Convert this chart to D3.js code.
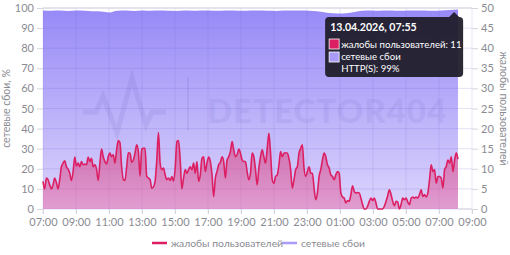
<!DOCTYPE html>
<html><head><meta charset="utf-8">
<script src="https://cdn.jsdelivr.net/npm/d3@7"></script>
<style>
body{margin:0;background:#fff;}
svg{display:block;font-family:Lato,"Noto Sans",sans-serif;}
</style></head>
<body><svg id="c" width="510" height="255"></svg>
<script>
const startTime = "2026-04-12T07:00";
const dataEndTime = "2026-04-13T08:09";
const axisEndTime = "2026-04-13T09:00";
const complaints = [6.9,5,7.7,7.3,6,5,6,7.7,6.6,5,7.3,10.5,11.4,12,10.5,9.9,8.9,7.1,9.3,12.9,10.7,11.4,10.5,11.8,11,11.2,11,12.9,11.8,12.6,10.5,11,9.9,7.1,11.4,14.9,13,11.8,11.2,13,13.9,13,13.5,11.4,14.7,17,16.5,10.5,7.3,7.1,10.5,14,13.9,11.6,12.2,13.9,16,14.3,8.1,14.9,15.1,15.1,8.1,7.7,7.3,5.2,5.5,6.9,12.2,19,
11.4,9.8,10.2,8.5,7.3,7.7,7.1,8.1,6.9,10.2,16.8,17,12.2,5,7.7,9.8,8.9,9.8,10.5,9.8,11.4,8.9,11.8,6.9,8.5,12.6,13,9.3,11.4,12.9,11.8,8.5,3.1,7.7,9.3,11,11.6,13,11.8,7.7,12.2,13,14.3,16.8,14.7,13,13.5,14.9,13.9,12.2,11.8,11.8,9.3,7.3,8.9,13.9,13,9.8,6,10.2,13,14.7,13,11.4,15.1,18.8,13.9,7.3,6.4,8.1,8.5,11,14.3,13,13.9,14,13.9,12.6,9.8,5.2,7.3,9.8,10.5,13.9,15.1,16,10.2,8.1,9.3,10.5,8.9,8.9,5.2,2.3,4,8.1,9.8,12.2,13.9,13,11,10.2,8.5,8.1,7.3,8.5,9.3,
8.9,4,3,2.7,1.5,2.1,1.9,3.6,5.8,4.4,4,4.1,4,2.7,1.1,0,0,0.7,1.9,2.7,2.1,2.7,1.5,0,0,0,0,0.7,1.9,3.3,4.8,3.6,1.9,0.8,1.9,1.7,0,1.1,2.7,2.3,2.7,1.7,1.1,2.7,3,2.7,3,2.7,3.6,4.8,3.1,3.6,3,4,7.3,11,9.3,9.8,6.4,8.1,8.1,7.7,5.2,9.8,10.6,12.2,11.4,13,9.3,12.2,14,12.4];
const failures = [98.8,98.6,98.7,98.5,98.7,98.6,98.4,98.3,97.8,98.6,98.7,98.5,98.8,98.6,98.7,98.6,98.5,98.7,98.6,98.8,98.7,98.6,98.8,98.7,98.6,98.8,98.7,98.6,98.5,98.7,98.8,98.7,98.6,98.4,97.8,97.4,97.3,97.6,98.4,98.7,98.6,98.8,98.7,98.6,98.7,98.8,98.7,98.6,98.8,99.0,99.2];
const leftTicks = [0,10,20,30,40,50,60,70,80,90,100];
const rightTicks = [0,5,10,15,20,25,30,35,40,45,50];
const xTickLabels = ["07:00","09:00","11:00","13:00","15:00","17:00","19:00","21:00","23:00","01:00","03:00","05:00","07:00","09:00"];
const seriesNames = ["жалобы пользователей","сетевые сбои"];
const leftTitle = "сетевые сбои, %";
const rightTitle = "жалобы пользователей";
const tooltipTime = "2026-04-13T07:55";
const tooltipTitle = "13.04.2026, 07:55";
const tooltipComplaints = 11;
const tooltipHttp = 99;
const watermark = "DETECTOR404";

const parse = d3.timeParse("%Y-%m-%dT%H:%M");
const t0 = parse(startTime), t1 = parse(dataEndTime), tEnd = parse(axisEndTime);
const spread = (arr) => arr.map((v,i)=>({t:new Date(+t0 + (t1-t0)*i/(arr.length-1)), v}));
const cData = spread(complaints), fData = spread(failures);

const svg = d3.select("#c");
const m = {l:43, r:472, t:8, b:209};
const x = d3.scaleTime().domain([t0, tEnd]).range([m.l, m.r]);
const yL = d3.scaleLinear().domain([0,100]).range([m.b, m.t]);
const yR = d3.scaleLinear().domain([0,50]).range([m.b, m.t]);

const defs = svg.append("defs");
const g1 = defs.append("linearGradient").attr("id","gp").attr("x1",0).attr("y1",0).attr("x2",0).attr("y2",1);
g1.append("stop").attr("offset","0%").attr("stop-color","#988af7");
g1.append("stop").attr("offset","100%").attr("stop-color","#dcd5fc");
const g2 = defs.append("linearGradient").attr("id","gk").attr("gradientUnits","userSpaceOnUse")
  .attr("x1",0).attr("y1",yR(20)).attr("x2",0).attr("y2",m.b);
g2.append("stop").attr("offset","0%").attr("stop-color","#d24f8c").attr("stop-opacity",0.75);
g2.append("stop").attr("offset","100%").attr("stop-color","#e6599a").attr("stop-opacity",0.45);

// purple area
svg.append("path").datum(fData)
  .attr("fill","url(#gp)")
  .attr("d", d3.area().x(d=>x(d.t)).y0(m.b).y1(d=>yL(d.v)).curve(d3.curveMonotoneX));

// grid
const xTicks = xTickLabels.map((s,i)=>d3.timeHour.offset(t0, 2*i));
svg.append("g").selectAll("line").data(leftTicks).join("line")
  .attr("x1",m.l).attr("x2",m.r).attr("y1",d=>yL(d)).attr("y2",d=>yL(d))
  .attr("stroke","#6e5fd0").attr("stroke-opacity",0.18).attr("stroke-width",1);
svg.append("g").selectAll("line").data(xTicks).join("line")
  .attr("x1",d=>x(d)).attr("x2",d=>x(d)).attr("y1",m.t).attr("y2",m.b+5)
  .attr("stroke","#6e5fd0").attr("stroke-opacity",0.15).attr("stroke-width",1);

// watermark
const wm = svg.append("g").attr("opacity",0.07).attr("fill","none").attr("stroke","#2a1d8a");
const hb = [[83,112],[96,112],[103,96],[117,133],[132,78],[146,125],[152,112],[166,112]];
wm.append("path").attr("d", d3.line()(hb)).attr("stroke-width",5).attr("stroke-linejoin","miter");
wm.append("line").attr("x1",188).attr("x2",188).attr("y1",77).attr("y2",130).attr("stroke-width",2);
svg.append("text").attr("x",207).attr("y",123).text(watermark)
  .attr("font-size",33).attr("font-weight",900).attr("fill","#2a1d8a").attr("opacity",0.06)
  .attr("font-family","Lato, sans-serif").attr("letter-spacing",1);

// pink area + line
svg.append("path").datum(cData).attr("fill","url(#gk)")
  .attr("d", d3.area().x(d=>x(d.t)).y0(m.b).y1(d=>yR(d.v)).curve(d3.curveMonotoneX));
svg.append("path").datum(cData).attr("fill","none").attr("stroke","#dc1f62").attr("stroke-width",1.6)
  .attr("d", d3.line().x(d=>x(d.t)).y(d=>yR(d.v)).curve(d3.curveMonotoneX));

// axes
const axisColor = "#d6d6dc", txtColor = "#8a8a92";
const aL = svg.append("g").attr("transform",`translate(${m.l},0)`)
  .call(d3.axisLeft(yL).tickValues(leftTicks).tickSize(6).tickPadding(3));
const aR = svg.append("g").attr("transform",`translate(${m.r},0)`)
  .call(d3.axisRight(yR).tickValues(rightTicks).tickSize(6).tickPadding(3));
const aB = svg.append("g").attr("transform",`translate(0,${m.b})`)
  .call(d3.axisBottom(x).tickValues(xTicks).tickFormat((d,i)=>xTickLabels[i]).tickSize(5).tickPadding(4));
[aL,aR,aB].forEach(a=>{
  a.select(".domain").remove();
  a.selectAll(".tick line").attr("stroke",axisColor);
  a.selectAll("text").attr("fill",txtColor).attr("font-size",11).attr("font-family","Lato, sans-serif");
});
svg.append("line").attr("x1",m.l).attr("x2",m.r).attr("y1",m.t).attr("y2",m.t).attr("stroke",axisColor);
svg.append("line").attr("x1",x(t1)).attr("x2",m.r).attr("y1",m.b).attr("y2",m.b).attr("stroke",axisColor);

svg.append("text").attr("transform",`translate(10,${(m.t+m.b)/2}) rotate(-90)`).attr("text-anchor","middle")
  .attr("fill",txtColor).attr("font-size",10.5).text(leftTitle);
svg.append("text").attr("transform",`translate(500,${(m.t+m.b)/2}) rotate(90)`).attr("text-anchor","middle")
  .attr("fill",txtColor).attr("font-size",10.5).text(rightTitle);

// legend
const lg = svg.append("g").attr("font-size",10.3).attr("fill",txtColor);
const legendItems = [{n:seriesNames[0],c:"#dc1f62",x:152},{n:seriesNames[1],c:"#a99bf7",x:282}];
legendItems.forEach(it=>{
  lg.append("line").attr("x1",it.x).attr("x2",it.x+15).attr("y1",243).attr("y2",243).attr("stroke",it.c).attr("stroke-width",2.5);
  lg.append("text").attr("x",it.x+19).attr("y",246.5).text(it.n);
});

// tooltip
const tt = parse(tooltipTime);
const ax = x(tt), ay = yL(99)+3;
const bw = 138, bh = 60, bx = ax - bw + 9, by = ay + 4;
const fs = 9.6;
const tg = svg.append("g");
tg.append("rect").attr("x",bx).attr("y",by).attr("width",bw).attr("height",bh).attr("rx",4)
  .attr("fill","#1c1b26").attr("fill-opacity",0.93);
tg.append("path").attr("d",`M${ax-5},${by} L${ax},${by-5} L${ax+5},${by} Z`).attr("fill","#1c1b26").attr("fill-opacity",0.93);
tg.append("text").attr("x",bx+5).attr("y",by+14).attr("fill","#fff").attr("font-size",10.6).attr("font-weight",700).text(tooltipTitle);
tg.append("rect").attr("x",bx+4).attr("y",by+22).attr("width",10).attr("height",10).attr("fill","#dc1f62").attr("stroke","#fff").attr("stroke-width",0.8);
tg.append("text").attr("x",bx+16).attr("y",by+31).attr("fill","#fff").attr("font-size",fs).text(`${seriesNames[0]}: ${tooltipComplaints}`);
tg.append("rect").attr("x",bx+4).attr("y",by+35).attr("width",10).attr("height",10).attr("fill","#a99bf7").attr("stroke","#fff").attr("stroke-width",0.8);
tg.append("text").attr("x",bx+16).attr("y",by+43).attr("fill","#fff").attr("font-size",fs).text(seriesNames[1]);
tg.append("text").attr("x",bx+16).attr("y",by+55).attr("fill","#fff").attr("font-size",fs).text(`HTTP(S): ${tooltipHttp}%`);
</script></body></html>
